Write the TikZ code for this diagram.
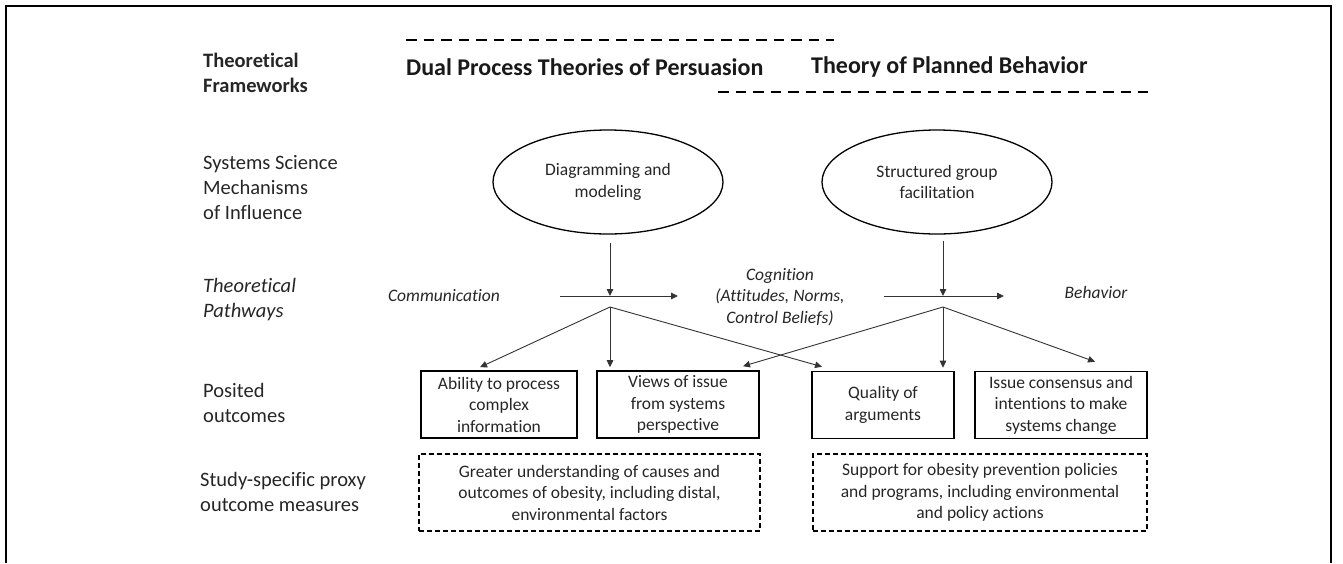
\documentclass[tikz,border=0pt]{standalone}
\usepackage{fontspec}
\setmainfont{Carlito}[Ligatures={NoCommon}]
\usetikzlibrary{arrows.meta}
\usetikzlibrary{shapes.geometric}

\tikzset{
  rowlabel/.style={anchor=west,align=left,inner sep=0pt,text=black!85,
    font=\fontsize{20.5}{25}\selectfont},
  theory/.style={anchor=west,inner sep=0pt,text=black!90,
    font=\fontsize{24}{28}\selectfont\bfseries},
  framedash/.style={line width=2.2pt,dash pattern=on 10.5pt off 7pt},
  mech/.style={ellipse,draw,line width=1.3pt,inner sep=0pt,align=center,
    minimum width=230pt,minimum height=104pt,text=black!85,
    font=\fontsize{17.5}{21.5}\selectfont},
  pathlabel/.style={align=center,inner sep=0pt,text=black!85,
    font=\fontsize{17.5}{21.5}\selectfont\itshape},
  outcome/.style={rectangle,draw,line width=1.6pt,inner sep=0pt,align=center,
    minimum height=67pt,text=black!85,font=\fontsize{17.5}{21.5}\selectfont},
  measure/.style={rectangle,draw,line width=1.3pt,dash pattern=on 5pt off 3pt,
    inner sep=0pt,align=center,minimum height=77pt,text=black!85,
    font=\fontsize{17.5}{21.5}\selectfont},
  arr/.style={-{Triangle[length=7pt,width=6.5pt]},line width=0.9pt,draw=black!80}
}

\begin{document}
\begin{tikzpicture}[x=1pt,y=-1pt]
    \useasboundingbox (0,0) rectangle (1343,563);
    \draw[line width=1.5pt] (6,563) -- (6,6) -- (1331,6) -- (1331,563);

    \node[rowlabel,font=\fontsize{20.5}{25}\selectfont\bfseries] (tf) at (203,72.5) {Theoretical\\Frameworks};
    \node[rowlabel] (ssm) at (203,188) {Systems Science\\Mechanisms\\of Influence};
    \node[rowlabel,font=\fontsize{20.5}{25}\selectfont\itshape] (tp) at (203,300) {Theoretical\\Pathways};
    \node[rowlabel] (po) at (203,402.5) {Posited\\outcomes};
    \node[rowlabel] (sp) at (200,492) {Study-specific proxy\\outcome measures};

    \node[theory] (dpt) at (406,67) {Dual Process Theories of Persuasion};
    \node[theory] (tpb) at (811,67) {Theory of Planned Behavior};
    \draw[framedash] (406,40) -- (834,40);
    \draw[framedash] (718,92) -- (1148,92);

    \node[mech] (diag)  at (608,182) {Diagramming and\\modeling};
    \node[mech] (facil) at (937,182) {Structured group\\facilitation};

    \node[pathlabel] (comm) at (444,296) {Communication};
    \node[pathlabel] (cog)  at (780,297) {Cognition\\(Attitudes, Norms,\\Control Beliefs)};
    \node[pathlabel] (beh)  at (1096,292) {Behavior};

    \coordinate (j1)  at (610,296);
    \coordinate (j2)  at (943,296);
    \coordinate (h1a) at (560,296);
    \coordinate (h1b) at (678,296);
    \coordinate (h2a) at (884,296);
    \coordinate (h2b) at (1004,296);
    \coordinate (f1)  at (610,307);
    \coordinate (f2)  at (943,307);

    \node[outcome,minimum width=156pt] (abil)  at (499,404.5) {Ability to process\\complex\\information};
    \node[outcome,minimum width=162pt] (views) at (678,404.5) {Views of issue\\from systems\\perspective};
    \node[outcome,minimum width=142pt] (qual)  at (883,405) {Quality of\\arguments};
    \node[outcome,minimum width=172pt] (cons)  at (1061,405) {Issue consensus and\\intentions to make\\systems change};

    \node[measure,minimum width=341pt] (und)  at (589.5,492.5) {Greater understanding of causes and\\outcomes of obesity, including distal,\\environmental factors};
    \node[measure,minimum width=334pt] (supp) at (980,492.5) {Support for obesity prevention policies\\and programs, including environmental\\and policy actions};

    \begin{scope}[every path/.style={arr}]
        \draw[shorten <=8pt] (j1 |- diag.south) -- (j1);
        \draw[shorten <=6pt] (j2 |- facil.south) -- (j2);
        \draw (h1a) -- (h1b);
        \draw (h2a) -- (h2b);
        \draw (f1) -- ([xshift=-19pt,yshift=3pt]abil.north);
        \draw (f1) -- ([xshift=-68pt,yshift=3pt]views.north);
        \draw (f1) -- ([xshift=-61pt,yshift=4pt]qual.north);
        \draw (f2) -- ([xshift=65pt,yshift=4pt]views.north);
        \draw (f2) -- ([xshift=60pt,yshift=3pt]qual.north);
        \draw (f2) -- ([xshift=34pt,yshift=9pt]cons.north);
    \end{scope}
\end{tikzpicture}
\end{document}
